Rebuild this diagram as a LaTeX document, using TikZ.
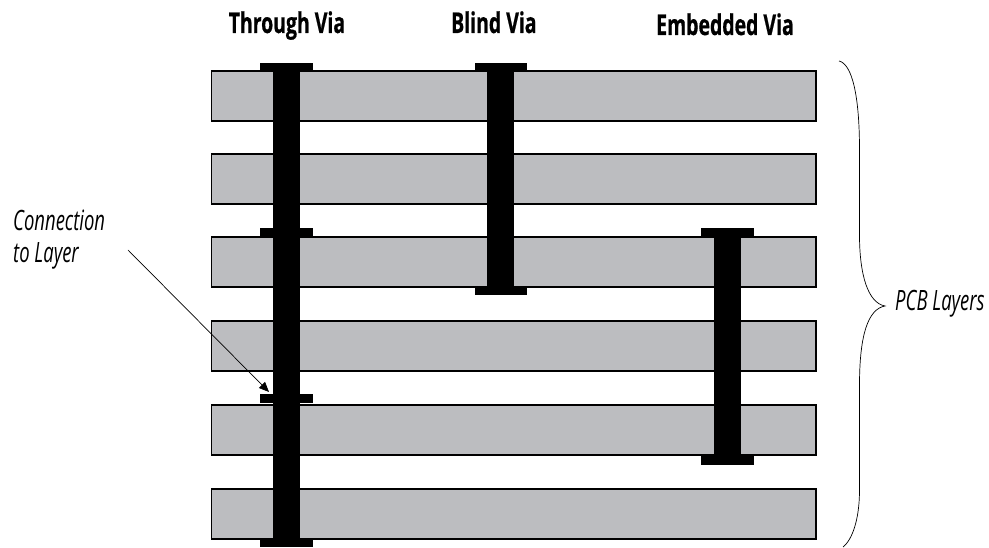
\documentclass[tikz,border=0pt]{standalone}
\usepackage{fontspec}
\usetikzlibrary{arrows.meta}
\setmainfont{Open Sans}
\newfontfamily\headfont[FakeStretch=0.68,FakeBold=0.6]{Open Sans Bold}
\newfontfamily\notefont[FakeStretch=0.66]{Open Sans Italic}
\definecolor{layergray}{HTML}{BCBDC0}
\tikzset{
  x=1pt,y=-1pt,
  layerbar/.style={draw=black,fill=layergray,line width=1.8pt},
  viametal/.style={fill=black,draw=none},
  headtext/.style={anchor=base west,inner sep=0pt,font=\headfont\fontsize{28.6}{32}\selectfont},
  notetext/.style={anchor=base west,inner sep=0pt,font=\notefont\fontsize{28}{32}\selectfont},
  thinline/.style={draw=black,line width=0.7pt},
}
\begin{document}
\begin{tikzpicture}
\useasboundingbox (0,0) rectangle (989,548);
% layers
\foreach \t/\b in {71/121,154/204,237/287,321/371,405/455,489/539}
  \draw[layerbar] (211.5,\t) rectangle (816,\b);
% through via
\fill[viametal] (273,63) rectangle (300,547);
\fill[viametal] (260,63) rectangle (313,71);
\fill[viametal] (260,228) rectangle (313,237);
\fill[viametal] (260,394) rectangle (313,403);
\fill[viametal] (260,538) rectangle (313,547);
% blind via
\fill[viametal] (487,63) rectangle (514,295);
\fill[viametal] (474.5,63) rectangle (527,71);
\fill[viametal] (474.5,287) rectangle (527,295);
% embedded via
\fill[viametal] (714,228) rectangle (741,465);
\fill[viametal] (701,228) rectangle (754,237);
\fill[viametal] (701,456) rectangle (754,465);
% headings
\node[headtext] (through) at (228.5,33) {Through Via};
\node[headtext] (blind) at (451,33) {Blind Via};
\node[headtext] (embedded) at (656,35) {Embedded Via};
% notes
\node[notetext] (conn) at (13,231) {Connection};
\node[notetext] (tolayer) at (13,263) {to Layer};
\node[notetext] (pcb) at (895,311) {PCB Layers};
% leader
\coordinate (leadstart) at (128,250);
\coordinate (leadend) at (269,392);
\draw[thinline,-{Triangle[length=10pt,width=8.5pt]}] (leadstart) -- (leadend);
% brace
\coordinate (bracetop) at (839,61);
\coordinate (bracetip) at (885,306);
\coordinate (bracebot) at (843,547);
\draw[thinline] (bracetop)
  .. controls (852,64) and (859.5,95) .. (859.5,150)
  -- (859.5,235)
  .. controls (859.5,275) and (868,303) .. (bracetip)
  .. controls (868,309) and (859.5,335) .. (859.5,385)
  -- (859.5,490)
  .. controls (859.5,520) and (852,540) .. (bracebot);
\end{tikzpicture}
\end{document}
